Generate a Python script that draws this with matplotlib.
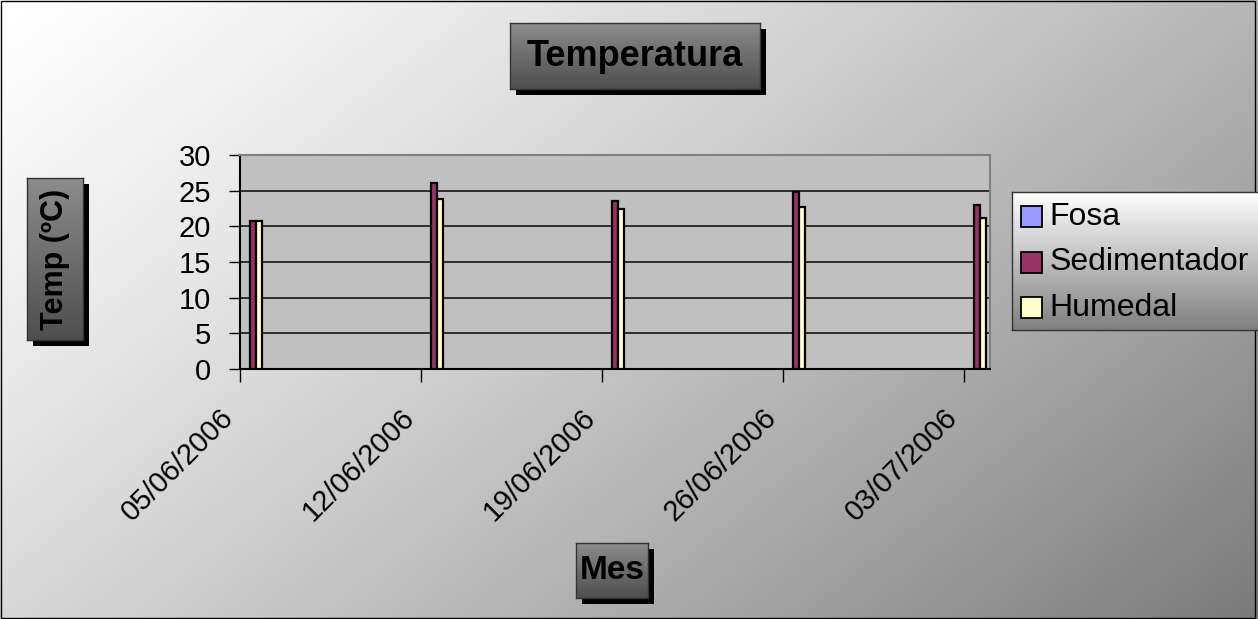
import numpy as np
import matplotlib
matplotlib.use("Agg")
import matplotlib.pyplot as plt
import matplotlib.dates as mdates
from matplotlib.patches import Rectangle
from matplotlib.transforms import ScaledTranslation
import datetime as dt

plt.rcParams['font.family'] = ['Liberation Sans', 'DejaVu Sans']

# ---- data ----
dates = [dt.date(2006, 6, 5), dt.date(2006, 6, 12), dt.date(2006, 6, 19),
         dt.date(2006, 6, 26), dt.date(2006, 7, 3)]
tick_labels = ['05/06/2006', '12/06/2006', '19/06/2006', '26/06/2006', '03/07/2006']
fosa = [0, 0, 0, 0, 0]
sedimentador = [20.7, 26.1, 23.6, 24.8, 23.0]
humedal = [20.7, 23.9, 22.5, 22.7, 21.1]
series_names = ['Fosa', 'Sedimentador', 'Humedal']
series_colors = ['#9999FF', '#993366', '#FFFFCC']

W, H = 1258, 619
fig = plt.figure(figsize=(W / 100, H / 100), dpi=100)


def px_axes(x0, y0, x1, y1, z=0):
    return fig.add_axes([x0 / W, 1 - y1 / H, (x1 - x0) / W, (y1 - y0) / H], zorder=z)


# ---- background diagonal gradient ----
bg = px_axes(0, 0, W, H, z=-10)
yy, xx = np.mgrid[0:1:200j, 0:1:400j]
t = (xx * 0.62 + yy * 0.38)
t = np.clip(t, 0, 1)
col = 1.0 - 0.52 * t ** 1.25
bg.imshow(np.dstack([col, col, col]), aspect='auto', extent=[0, 1, 1, 0])
bg.set_xlim(0, 1); bg.set_ylim(1, 0)
bg.axis('off')
bg.add_patch(Rectangle((0.001, 0.001), 0.997, 0.997, fill=False, ec='black', lw=1.0,
                       transform=bg.transAxes))


def gradient_box(x0, y0, x1, y1, top, bot, text=None, size=18, rotation=0,
                 shadow=6, edge='#333333', z=5):
    if shadow:
        sh = px_axes(x0 + shadow, y0 + shadow, x1 + shadow, y1 + shadow, z=z)
        sh.set_facecolor('black')
        sh.set_xticks([]); sh.set_yticks([])
        for s in sh.spines.values():
            s.set_visible(False)
    a = px_axes(x0, y0, x1, y1, z=z + 1)
    g = np.linspace(0, 1, 100)[:, None]
    c0 = np.array(matplotlib.colors.to_rgb(top))
    c1 = np.array(matplotlib.colors.to_rgb(bot))
    img = c0[None, None, :] * (1 - g[:, :, None]) + c1[None, None, :] * g[:, :, None]
    a.imshow(img, aspect='auto', extent=[0, 1, 1, 0])
    a.set_xlim(0, 1); a.set_ylim(1, 0)
    a.set_xticks([]); a.set_yticks([])
    for s in a.spines.values():
        s.set_edgecolor(edge); s.set_linewidth(1.0)
    if text:
        a.text(0.5, 0.5, text, ha='center', va='center', fontsize=size,
               fontweight='bold', rotation=rotation, color='black',
               transform=a.transAxes)
    return a


# ---- main plot ----
ax = px_axes(240, 155, 990, 369, z=2)
ax.set_facecolor('#C0C0C0')
x = mdates.date2num(dates) + 0.5
bw = 0.235
for i, (vals, c) in enumerate(zip([fosa, sedimentador, humedal], series_colors)):
    vals = np.array(vals, dtype=float)
    mask = vals > 0
    ax.bar(x[mask] + (i - 1) * bw, vals[mask], width=bw, color=c,
           edgecolor='black', linewidth=1.6, zorder=3)

ax.set_xlim(mdates.date2num(dt.date(2006, 6, 5)), mdates.date2num(dt.date(2006, 7, 4)))
ax.set_ylim(0, 30)
ax.set_yticks([0, 5, 10, 15, 20, 25, 30])
ax.set_xticks(mdates.date2num(dates))
ax.set_xticklabels(tick_labels, rotation=45, ha='right', va='center',
                   rotation_mode='anchor', fontsize=21)
ax.tick_params(axis='y', labelsize=21, length=8, width=1, direction='out', pad=13)
ax.tick_params(axis='x', length=9, width=1, direction='out', pad=0)
off = ScaledTranslation(-11 / 100, -32 / 100, fig.dpi_scale_trans)
for lab in ax.get_xticklabels():
    lab.set_transform(lab.get_transform() + off)
ax.grid(axis='y', color='#222222', linewidth=1.3, zorder=1)
ax.set_axisbelow(True)
ax.spines['left'].set_color('black')
ax.spines['bottom'].set_color('black')
ax.spines['top'].set_color('#808080')
ax.spines['right'].set_color('#808080')
for s in ax.spines.values():
    s.set_linewidth(1.5)

# ---- title and axis label boxes ----
gradient_box(510, 23, 760, 89, '#8c8c8c', '#4e4e4e', 'Temperatura', size=26)
gradient_box(27, 178, 83, 340, '#8c8c8c', '#4e4e4e', 'Temp (ºC)', size=22, rotation=90)
gradient_box(576, 543, 648, 598, '#8c8c8c', '#4e4e4e', 'Mes', size=24)

# ---- legend ----
lg = gradient_box(1012, 192, 1262, 330, '#ffffff', '#808080', shadow=0, edge='#333333')
ys = [0.82, 0.49, 0.16]
for name, c, yv in zip(series_names, series_colors, ys):
    lg.add_patch(Rectangle((0.036, yv - 0.076), 0.084, 0.152, facecolor=c,
                           edgecolor='black', lw=1.3, transform=lg.transAxes))
    lg.text(0.15, yv, name, fontsize=23, va='center', ha='left',
            transform=lg.transAxes)

fig.savefig('out.png', dpi=100)
